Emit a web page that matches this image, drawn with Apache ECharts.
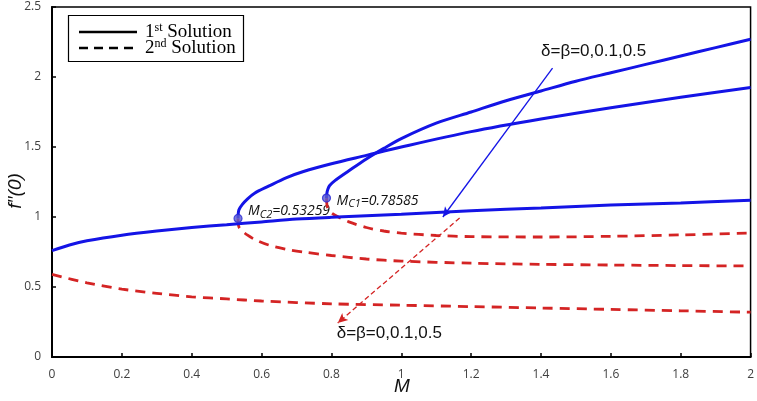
<!DOCTYPE html>
<html>
<head>
<meta charset="utf-8">
<script src="https://cdn.jsdelivr.net/npm/echarts@6/dist/echarts.min.js"></script>
<style>html,body{margin:0;padding:0;background:#fff}#c{width:757px;height:401px}</style>
</head>
<body>
<div id="c"></div>
<script>
// ---- data ----
const xTicks = [0, 0.2, 0.4, 0.6, 0.8, 1, 1.2, 1.4, 1.6, 1.8, 2];
const yTicks = [0, 0.5, 1, 1.5, 2, 2.5];

// delta = beta = 0 (no turning point)
const M_a1 = [0, 0.05, 0.1, 0.2, 0.3, 0.4, 0.5, 0.6, 0.7, 0.8, 1.0, 1.2, 1.4, 1.6, 1.8, 2.0];
const f_a1 = [0.76, 0.80, 0.83, 0.87, 0.90, 0.925, 0.945, 0.965, 0.985, 0.998, 1.02, 1.045, 1.065, 1.085, 1.10, 1.12];
const M_a2 = [0, 0.1, 0.2, 0.3, 0.4, 0.5, 0.6, 0.8, 1.0, 1.2, 1.4, 1.6, 1.8, 2.0];
const f_a2 = [0.59, 0.53, 0.485, 0.455, 0.43, 0.415, 0.40, 0.38, 0.37, 0.36, 0.35, 0.34, 0.33, 0.32];

// turning point Mc2 = 0.53259
const M_b1 = [0.53259, 0.535, 0.545, 0.56, 0.58, 0.62, 0.67, 0.72, 0.8, 0.9, 1.0, 1.2, 1.4, 1.6, 1.8, 2.0];
const f_b1 = [0.99, 1.05, 1.09, 1.13, 1.17, 1.22, 1.28, 1.325, 1.38, 1.44, 1.50, 1.61, 1.70, 1.78, 1.855, 1.925];
const M_b2 = [0.53259, 0.535, 0.545, 0.56, 0.58, 0.62, 0.67, 0.72, 0.8, 0.9, 1.0, 1.2, 1.4, 1.6, 1.8, 2.0];
const f_b2 = [0.99, 0.93, 0.90, 0.87, 0.84, 0.80, 0.77, 0.75, 0.725, 0.70, 0.685, 0.67, 0.662, 0.657, 0.653, 0.65];

// turning point Mc1 = 0.78585
const M_c1 = [0.78585, 0.787, 0.79, 0.795, 0.81, 0.85, 0.9, 0.95, 1.0, 1.1, 1.2, 1.3, 1.4, 1.5, 1.6, 1.7, 1.8, 1.9, 2.0];
const f_c1 = [1.135, 1.17, 1.20, 1.225, 1.26, 1.33, 1.415, 1.49, 1.56, 1.67, 1.75, 1.83, 1.90, 1.97, 2.03, 2.09, 2.15, 2.21, 2.27];
const M_c2 = [0.78585, 0.787, 0.79, 0.80, 0.82, 0.85, 0.9, 0.95, 1.0, 1.1, 1.2, 1.4, 1.6, 1.8, 2.0];
const f_c2 = [1.135, 1.09, 1.06, 1.03, 1.0, 0.965, 0.925, 0.90, 0.885, 0.868, 0.86, 0.857, 0.862, 0.872, 0.885];

// critical points
const critM = [0.53259, 0.78585];
const critF = [0.99, 1.135];
const critLabels = ['C2', 'C1'];

// annotation arrows (data units)
const arrowBlue = [[1.433, 2.064], [1.119, 1.0]];
const arrowRed = [[1.167, 0.993], [0.818, 0.243]];
const annText = 'δ=β=0,0.1,0.5';
const annBluePos = [1.40, 2.18];
const annRedPos = [0.815, 0.17];

const BLUE = '#1414e6';
const RED = '#d42424';

const zip = (a, b) => a.map((v, i) => [v, b[i]]);

const solid = (M, f) => ({
  type: 'line', data: zip(M, f), showSymbol: false, smooth: 0.3,
  lineStyle: { color: BLUE, width: 3 }, z: 3
});
const dashed = (M, f) => ({
  type: 'line', data: zip(M, f), showSymbol: false, smooth: 0.3,
  lineStyle: { color: RED, width: 2.8, type: [10, 7] }, z: 2
});

const chart = echarts.init(document.getElementById('c'));
const gridL = 52, gridT = 7, gridR = 6, gridB = 44;

chart.setOption({
  animation: false,
  grid: { left: gridL, top: gridT, right: gridR, bottom: gridB, show: true, borderColor: '#000', borderWidth: 1.5, backgroundColor: 'transparent' },
  xAxis: {
    type: 'value', min: 0, max: 2, interval: 0.2,
    axisLine: { show: true, lineStyle: { color: '#000', width: 2 } },
    axisTick: { show: true, inside: true, length: 4, lineStyle: { color: '#000', width: 1.5 } },
    splitLine: { show: false },
    axisLabel: { color: '#404040', fontSize: 12, fontFamily: 'Open Sans', margin: 12,
      formatter: v => String(+v.toFixed(1)) }
  },
  yAxis: {
    type: 'value', min: 0, max: 2.5, interval: 0.5,
    axisLine: { show: true, lineStyle: { color: '#000', width: 2 } },
    axisTick: { show: true, inside: true, length: 4, lineStyle: { color: '#000', width: 1.5 } },
    splitLine: { show: false },
    axisLabel: { color: '#404040', fontSize: 12, fontFamily: 'Open Sans', margin: 11,
      formatter: v => String(+v.toFixed(1)) }
  },
  series: [
    dashed(M_a2, f_a2), dashed(M_b2, f_b2), dashed(M_c2, f_c2),
    solid(M_a1, f_a1), solid(M_b1, f_b1), solid(M_c1, f_c1),
    {
      type: 'line', data: [], silent: true,
      markLine: {
        silent: true, symbol: ['none', 'arrow'], symbolSize: [7, 10], label: { show: false },
        lineStyle: { color: BLUE, width: 1.3, type: 'solid' },
        data: [[{ coord: arrowBlue[0] }, { coord: arrowBlue[1] }]]
      }
    },
    {
      type: 'line', data: [], silent: true,
      markLine: {
        silent: true, symbol: ['none', 'arrow'], symbolSize: [7, 10], label: { show: false },
        lineStyle: { color: RED, width: 1.3, type: [5, 3] },
        data: [[{ coord: arrowRed[0] }, { coord: arrowRed[1] }]]
      }
    },
    {
      type: 'scatter', data: zip(critM, critF), symbol: 'circle', symbolSize: 8, z: 5,
      itemStyle: { color: '#5a5ad2', borderColor: '#2a2ad8', borderWidth: 1.2 }
    }
  ]
});

// text annotations positioned through the axes
const px = (m, f) => chart.convertToPixel({ gridIndex: 0 }, [m, f]);
const gfx = [];
const critOffsets = [[10, -7], [10, 3]];
critM.forEach((m, i) => {
  const p = px(m, critF[i]);
  gfx.push({
    type: 'text', x: p[0] + critOffsets[i][0], y: p[1] + critOffsets[i][1],
    style: {
      text: '{m|M}{s|' + critLabels[i] + '}{m|=' + critM[i].toFixed(5) + '}',
      verticalAlign: 'middle',
      rich: {
        m: { fontFamily: 'Open Sans', fontStyle: 'italic', fontSize: 14, fill: '#111' },
        s: { fontFamily: 'Open Sans', fontStyle: 'italic', fontSize: 11, fill: '#111', verticalAlign: 'bottom', padding: [6, 0, 0, 0] }
      }
    }
  });
});
const pb = px(annBluePos[0], annBluePos[1]);
gfx.push({ type: 'text', x: pb[0], y: pb[1], style: { text: annText, fontFamily: 'Liberation Sans', fontSize: 17, fill: '#111', verticalAlign: 'middle' } });
const pr = px(annRedPos[0], annRedPos[1]);
gfx.push({ type: 'text', x: pr[0], y: pr[1], style: { text: annText, fontFamily: 'Liberation Sans', fontSize: 17, fill: '#111', verticalAlign: 'middle' } });

// axis titles
gfx.push({ type: 'text', x: 402, y: 387, style: { text: 'M', fontFamily: 'Liberation Sans', fontStyle: 'italic', fontSize: 19, fill: '#111', align: 'center', verticalAlign: 'middle' } });
gfx.push({ type: 'text', x: 16, y: 191, rotation: Math.PI / 2, style: { text: 'f′′(0)', fontFamily: 'Liberation Sans', fontStyle: 'italic', fontSize: 19, fill: '#111', align: 'center', verticalAlign: 'middle' } });

// legend box
gfx.push({ type: 'rect', shape: { x: 68.5, y: 15.5, width: 175, height: 46 }, style: { fill: '#fff', stroke: '#000', lineWidth: 1.2 }, z: 10 });
gfx.push({ type: 'line', shape: { x1: 79, y1: 32, x2: 137, y2: 32 }, style: { stroke: '#000', lineWidth: 2.5 }, z: 11 });
gfx.push({ type: 'line', shape: { x1: 79, y1: 48, x2: 137, y2: 48 }, style: { stroke: '#000', lineWidth: 2.5, lineDash: [9, 6] }, z: 11 });
const legRich = {
  n: { fontFamily: 'Liberation Serif', fontSize: 19, fill: '#000' },
  sup: { fontFamily: 'Liberation Serif', fontSize: 12, fill: '#000', verticalAlign: 'top', padding: [0, 0, 8, 0] }
};
gfx.push({ type: 'text', x: 145, y: 32, z: 11, style: { text: '{n|1}{sup|st}{n| Solution}', verticalAlign: 'middle', rich: legRich } });
gfx.push({ type: 'text', x: 145, y: 48, z: 11, style: { text: '{n|2}{sup|nd}{n| Solution}', verticalAlign: 'middle', rich: legRich } });

chart.setOption({ graphic: gfx });
</script>
</body>
</html>
